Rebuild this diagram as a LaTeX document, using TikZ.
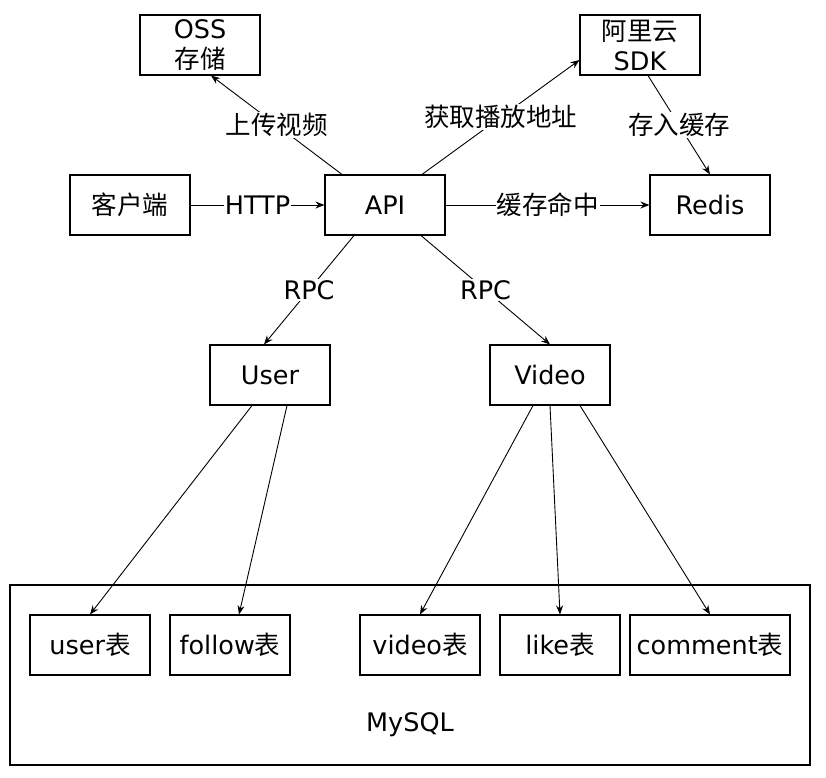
\documentclass[tikz,border=0pt]{standalone}
\usepackage{fontspec}
\setmainfont{DejaVu Sans}
\newfontfamily\cjk{Noto Sans CJK SC}
\usetikzlibrary{arrows.meta}

\begin{document}
\begin{tikzpicture}[x=1pt,y=-1pt,
		box/.style={draw, line width=1.1pt, minimum width=120pt, minimum height=60pt, inner sep=0pt, align=center, font=\fontsize{25.5}{30}\selectfont},
		arr/.style={line width=0.9pt, -{Stealth[length=9pt,width=7pt]}},
		lbl/.style={fill=white, inner sep=1pt, font=\fontsize{25.5}{30}\selectfont}]
		\useasboundingbox (0,0) rectangle (826,777);

		\node[box] (oss) at (200,45) {OSS\\{\cjk 存储}};
		\node[box] (sdk) at (640,45) {{\cjk 阿里云}\\SDK};
		\node[box] (client) at (130,205) {\cjk 客户端};
		\node[box] (api) at (385,205) {API};
		\node[box] (redis) at (710,205) {Redis};
		\node[box] (user) at (270,375) {User};
		\node[box] (video) at (550,375) {Video};

		\node[box, minimum width=800pt, minimum height=180pt] (mysql) at (410,675) {};
		\node[font=\fontsize{25.5}{30}\selectfont] (mysqlname) at (410,725) {MySQL};
		\node[box] (tuser) at (90,645) {user{\cjk 表}};
		\node[box] (tfollow) at (230,645) {follow{\cjk 表}};
		\node[box] (tvideo) at (420,645) {video{\cjk 表}};
		\node[box] (tlike) at (560,645) {like{\cjk 表}};
		\node[box, minimum width=160pt] (tcomment) at (710,645) {comment{\cjk 表}};

		\draw[arr] (client) -- node[lbl] {HTTP} (api);
		\draw[arr] (api) -- node[lbl] {\cjk 缓存命中} (redis);
		\draw[arr] ([xshift=-43pt]api.north) -- node[lbl] {\cjk 上传视频} ([xshift=11pt]oss.south);
		\draw[arr] ([xshift=37pt]api.north) -- node[lbl] {\cjk 获取播放地址} ([yshift=-15pt]sdk.west);
		\draw[arr] ([xshift=8pt]sdk.south) -- node[lbl] {\cjk 存入缓存} (redis.north);
		\draw[arr] ([xshift=-31pt]api.south) -- node[lbl] {RPC} ([xshift=-6pt]user.north);
		\draw[arr] ([xshift=36pt]api.south) -- node[lbl] {RPC} (video.north);

		\draw[arr] ([xshift=-18pt]user.south) -- (tuser.north);
		\draw[arr] ([xshift=17pt]user.south) -- ([xshift=9pt]tfollow.north);
		\draw[arr] ([xshift=-17pt]video.south) -- (tvideo.north);
		\draw[arr] (video.south) -- (tlike.north);
		\draw[arr] ([xshift=30pt]video.south) -- (tcomment.north);
\end{tikzpicture}
\end{document}
